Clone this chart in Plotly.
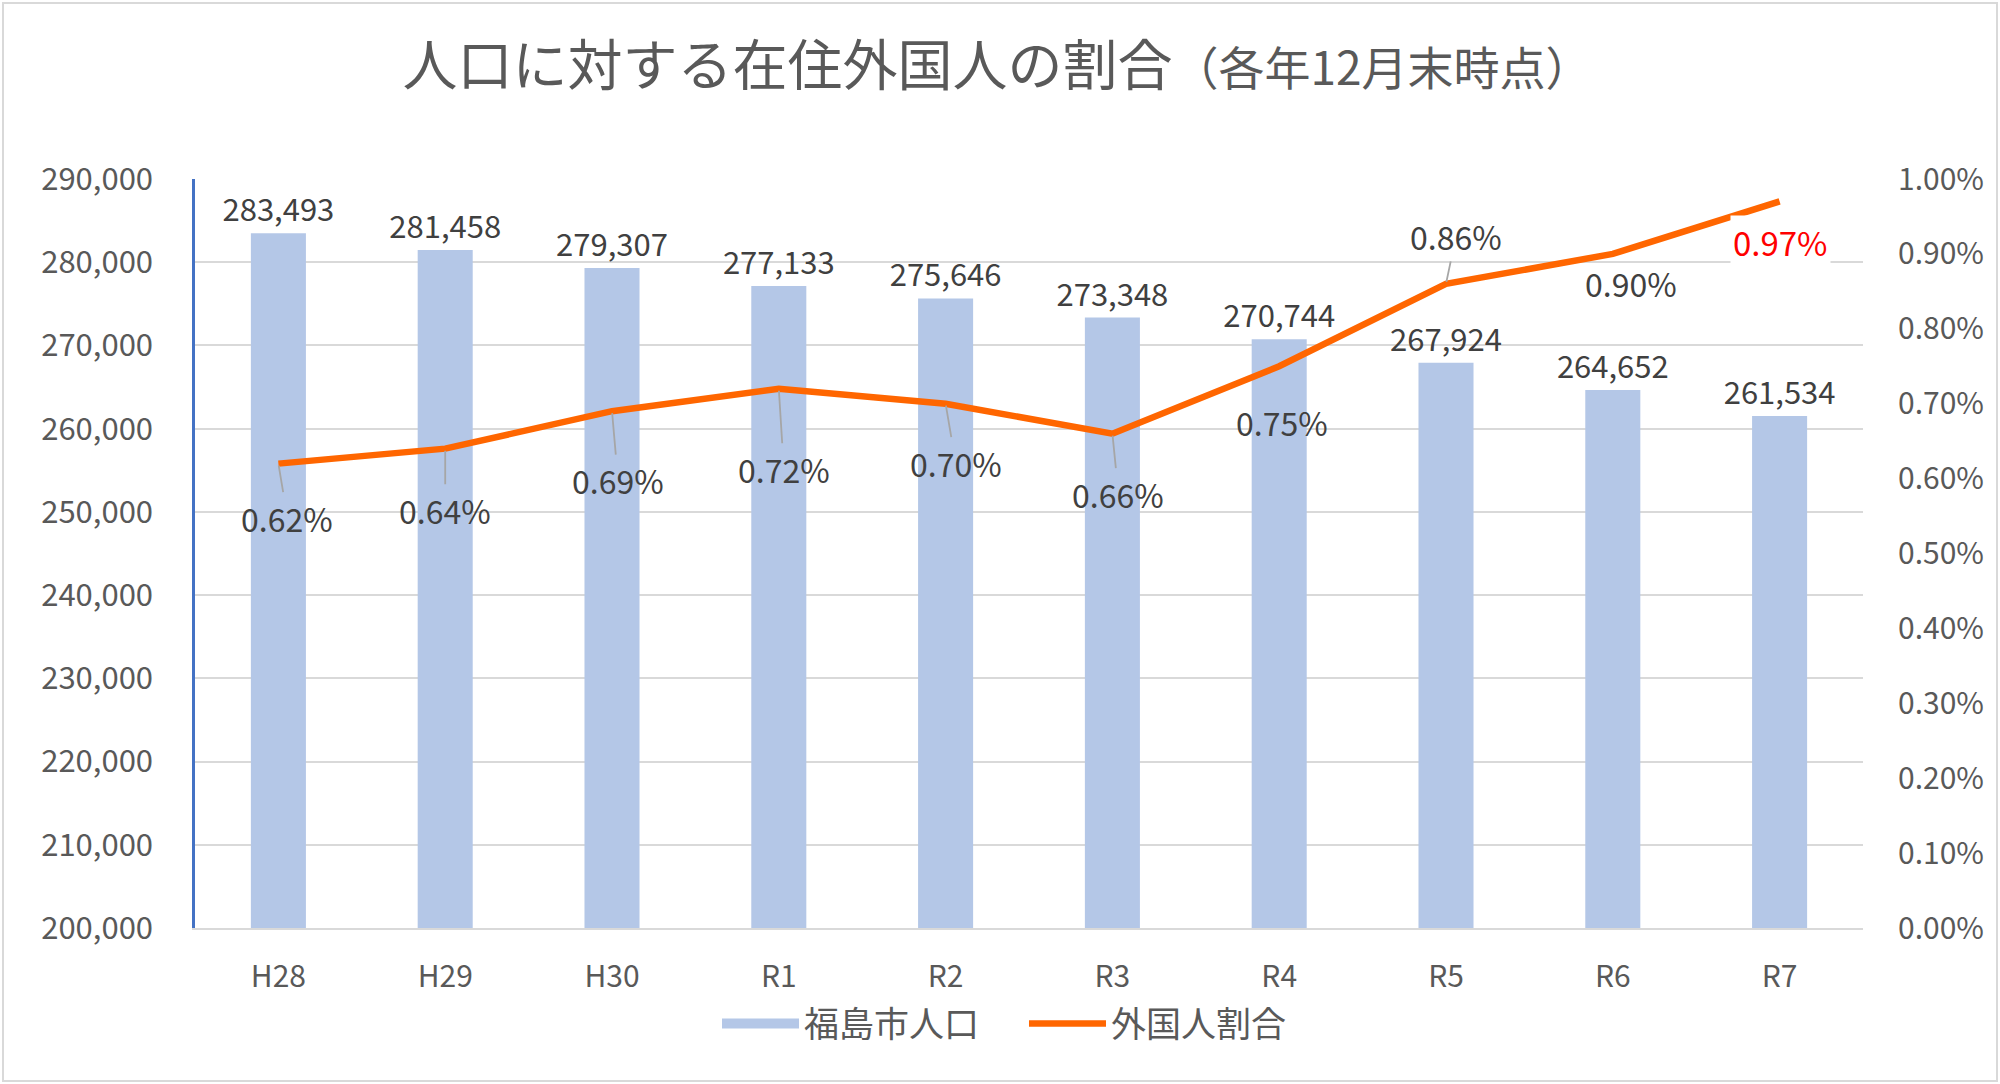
import plotly.graph_objects as go

categories = ["H28", "H29", "H30", "R1", "R2", "R3", "R4", "R5", "R6", "R7"]
population = [283493, 281458, 279307, 277133, 275646, 273348, 270744, 267924, 264652, 261534]
foreign_ratio = [0.0062, 0.0064, 0.0069, 0.0072, 0.0070, 0.0066, 0.0075, 0.0086, 0.0090, 0.0097]
left_ticks = [200000, 210000, 220000, 230000, 240000, 250000, 260000, 270000, 280000, 290000]
right_ticks = [0.0, 0.001, 0.002, 0.003, 0.004, 0.005, 0.006, 0.007, 0.008, 0.009, 0.010]

# label offsets (pixels) for the percentage labels, and whether a leader line is drawn
label_dx = [9, 0, 6, 5, 10, 6, 3, 10, 18, 1]
label_dy = [54, 61, 69, 80, 59, 60, 56, -48, 29, 41]
leader = [True, True, True, True, True, True, False, True, False, False]

FONT = "Noto Sans CJK JP, Noto Sans, sans-serif"
BAR_COLOR = "#B4C7E7"
LINE_COLOR = "#FF6600"

fig = go.Figure()
fig.add_trace(go.Bar(
    x=categories, y=population, name="福島市人口",
    marker=dict(color=BAR_COLOR, line=dict(width=0)),
    width=0.33, showlegend=False,
    text=[f"{v:,}" for v in population], textposition="outside",
    textfont=dict(size=31, color="#404040", family=FONT),
    constraintext="none",
    cliponaxis=False,
))
# legend entry for the bars drawn as a wide swatch (like the reference)
fig.add_trace(go.Scatter(
    x=[None], y=[None], name="福島市人口", mode="lines",
    line=dict(color=BAR_COLOR, width=22), hoverinfo="skip",
))
fig.add_trace(go.Scatter(
    x=categories, y=foreign_ratio, name="外国人割合", yaxis="y2",
    mode="lines", line=dict(color=LINE_COLOR, width=6.5),
))

annotations = []
for i, (c, v) in enumerate(zip(categories, foreign_ratio)):
    last = i == len(categories) - 1
    annotations.append(dict(
        x=c, y=v, xref="x", yref="y2",
        text=f"{v*100:.2f}%",
        showarrow=True, arrowhead=0, arrowwidth=1.8,
        arrowcolor="#A6A6A6" if leader[i] else "rgba(0,0,0,0)",
        ax=label_dx[i], ay=label_dy[i], standoff=2,
        font=dict(size=32 if not last else 33, color="#FF0000" if last else "#404040", family=FONT),
        bgcolor="white" if last else None,
        borderpad=2,
    ))

fig.update_layout(
    width=2000, height=1084,
    paper_bgcolor="white", plot_bgcolor="white",
    margin=dict(l=195, r=137, t=179, b=156),
    font=dict(family=FONT, color="#595959"),
    title=dict(
        text="人口に対する在住外国人の割合<span style='font-size:46px'>（各年12月末時点）</span>",
        x=0.4985, xref="container", xanchor="center",
        y=1 - 66 / 1084, yref="container", yanchor="middle",
        font=dict(size=55, color="#595959", family=FONT),
    ),
    bargap=0.67,
    xaxis=dict(
        type="category", showgrid=False, ticks="",
        showline=True, linecolor="#D9D9D9", linewidth=2,
        ticklabelstandoff=21,
        tickfont=dict(size=30, color="#595959"),
    ),
    yaxis=dict(
        range=[200000, 290000], tickvals=left_ticks,
        ticktext=[f"{t:,}" for t in left_ticks],
        showgrid=True, gridcolor="#D9D9D9", gridwidth=2,
        showline=True, linecolor="#4472C4", linewidth=2.5,
        zeroline=False, ticks="", ticklabelstandoff=33,
        tickfont=dict(size=31, color="#595959"),
    ),
    yaxis2=dict(
        overlaying="y", side="right", range=[0, 0.010],
        tickvals=right_ticks, ticktext=[f"{t*100:.2f}%" for t in right_ticks],
        showgrid=False, zeroline=False, showline=False, ticks="",
        ticklabelstandoff=34,
        tickfont=dict(size=30, color="#595959"),
    ),
    legend=dict(
        orientation="h", x=0.497, xanchor="center", y=-0.128, yanchor="middle",
        font=dict(size=35, color="#595959"), itemwidth=77,
        entrywidth=215, entrywidthmode="pixels",
        traceorder="normal",
    ),
    annotations=annotations,
    shapes=[dict(
        type="rect", xref="paper", yref="paper",
        x0=(3 - 195) / 1668, x1=(1997 - 195) / 1668,
        y0=(928 - 1081) / 749, y1=(928 - 3) / 749,
        line=dict(color="#D9D9D9", width=2), fillcolor="rgba(0,0,0,0)",
        layer="below",
    )],
)

fig.write_html("out.html")
